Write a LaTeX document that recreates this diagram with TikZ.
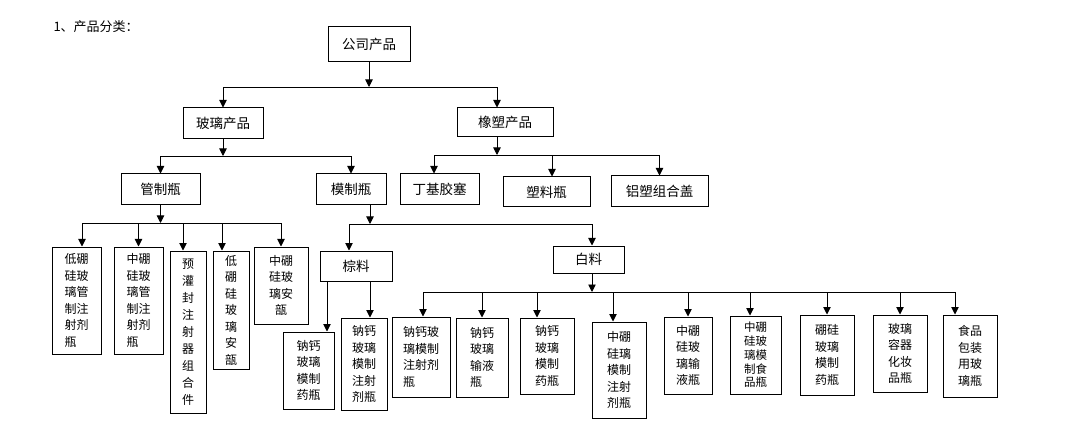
\documentclass[tikz,border=0pt]{standalone}
\usepackage{fontspec}
\setmainfont{Noto Sans CJK SC}
\usetikzlibrary{arrows.meta,positioning,calc}

\begin{document}
\begin{tikzpicture}[x=1pt, y=-1pt,
    box/.style={draw, line width=1pt, inner sep=0pt, font=\fontsize{13.5}{16}\selectfont},
    leaf/.style={draw, line width=1pt, inner sep=0pt, align=center, font=\fontsize{12}{16.5}\selectfont},
    wh/.style 2 args={minimum width=#1pt, minimum height=#2pt},
    link/.style={->, line width=0.9pt},
    >={Triangle[width=7.5pt,length=7.5pt]}]

  \useasboundingbox (0,0) rectangle (1080,433);

  \node[anchor=west, font=\fontsize{13}{15}\selectfont] (title) at (50,27) {1、产品分类：};

  \node[box, wh={82}{35}] (gs) at (369,44.5) {公司产品};
  \node[box, wh={80}{31}] (bl) at (223,123.5) {玻璃产品};
  \node[box, wh={96}{29}] (xs) at (505,122.5) {橡塑产品};
  \node[box, wh={79}{31}] (gz) at (160.5,189.5) {管制瓶};
  \node[box, wh={70}{31}] (mz) at (351,189.5) {模制瓶};
  \node[box, wh={79}{31}] (dj) at (439.5,189.5) {丁基胶塞};
  \node[box, wh={87}{30}] (sl) at (546.5,192) {塑料瓶};
  \node[box, wh={97}{31}] (lz) at (659.5,191.5) {铝塑组合盖};
  \node[box, wh={72}{30}] (zl) at (356,266) {棕料};
  \node[box, wh={71}{27}] (bai) at (588.5,259.5) {白料};

  % tube bottles
  \node[leaf, wh={49}{107}, align=left] (g1) at (76.5,300.5) {低硼\\硅玻\\璃管\\制注\\射剂\\瓶};
  \node[leaf, wh={49}{107}, align=left] (g2) at (138.5,300.5) {中硼\\硅玻\\璃管\\制注\\射剂\\瓶};
  \node[leaf, wh={36}{162}, font=\fontsize{12}{17}\selectfont] (g3) at (188,332) {预\\灌\\封\\注\\射\\器\\组\\合\\件};
  \node[leaf, wh={36}{118}] (g4) at (231,310) {低\\硼\\硅\\玻\\璃\\安\\瓿};
  \node[leaf, wh={54}{77}] (g5) at (281,285.5) {中硼\\硅玻\\璃安\\瓿};

  % brown glass
  \node[leaf, wh={51}{77}] (z1) at (308.5,370.5) {钠钙\\玻璃\\模制\\药瓶};
  \node[leaf, wh={46}{92}] (z2) at (364,364) {钠钙\\玻璃\\模制\\注射\\剂瓶};

  % flint glass
  \node[leaf, wh={58}{80}, align=left] (w1) at (421,357) {钠钙玻\\璃模制\\注射剂\\瓶};
  \node[leaf, wh={52}{79}, align=left] (w2) at (482,357.5) {钠钙\\玻璃\\输液\\瓶};
  \node[leaf, wh={54}{76}] (w3) at (547,356) {钠钙\\玻璃\\模制\\药瓶};
  \node[leaf, wh={54}{96}] (w4) at (619,370) {中硼\\硅璃\\模制\\注射\\剂瓶};
  \node[leaf, wh={48}{77}] (w5) at (688,355.5) {中硼\\硅玻\\璃输\\液瓶};
  \node[leaf, wh={51}{78}, font=\fontsize{11.5}{13.7}\selectfont] (w6) at (755.5,355) {中硼\\硅玻\\璃模\\制食\\品瓶};
  \node[leaf, wh={54}{80}] (w7) at (827,355) {硼硅\\玻璃\\模制\\药瓶};
  \node[leaf, wh={54}{77}] (w8) at (900,353.5) {玻璃\\容器\\化妆\\品瓶};
  \node[leaf, wh={54}{82}] (w9) at (970,356) {食品\\包装\\用玻\\璃瓶};

  % buses
  \coordinate (b1) at (369,87);
  \coordinate (b2) at (223,156);
  \coordinate (b3) at (497,155);
  \coordinate (b4) at (160.5,223);
  \coordinate (b5) at (370,224);
  \coordinate (b6) at (592,292);
  \coordinate (z1in) at ([xshift=18.5pt]z1.north);
  \coordinate (z2in) at ([xshift=6pt]z2.north);

  \draw[link] (gs) -- (b1);
  \draw[link] (b1) -| (bl.north);
  \draw[link] (b1) -| ([xshift=-8pt]xs.north);

  \draw[link] (bl) -- (b2);
  \draw[link] (b2) -| (gz.north);
  \draw[link] (b2) -| (mz.north);

  \draw[link] ([xshift=-8pt]xs.south) -- (b3);
  \draw[link] (b3) -| ([xshift=-5.5pt]dj.north);
  \draw[link] (b3) -| ([xshift=5.5pt]sl.north);
  \draw[link] (b3) -| (lz.north);

  \draw[link] (gz) -- (b4);
  \draw[link] (b4) -| ([xshift=5.5pt]g1.north);
  \draw[link] (b4) -| (g2.north);
  \draw[link] (b4) -| ([xshift=-5pt]g3.north);
  \draw[link] (b4) -| ([xshift=-9pt]g4.north);
  \draw[link] (b4) -| (g5.north);

  \draw[link] (mz.south -| b5) -- (b5);
  \draw[link] (b5) -| ([xshift=-7pt]zl.north);
  \draw[link] (b5) -| ([xshift=3.5pt]bai.north);

  \draw[link] (zl.south -| z1in) -- (z1in);
  \draw[link] (zl.south -| z2in) -- (z2in);

  \draw[link] (bai.south -| b6) -- (b6);
  \draw[link] (b6) -| ([xshift=2pt]w1.north);
  \draw[link] (b6) -| (w2.north);
  \draw[link] (b6) -| ([xshift=-10pt]w3.north);
  \draw[link] (b6) -| ([xshift=-6pt]w4.north);
  \draw[link] (b6) -| (w5.north);
  \draw[link] (b6) -| ([xshift=-5.5pt]w6.north);
  \draw[link] (b6) -| (w7.north);
  \draw[link] (b6) -| (w8.north);
  \draw[link] (b6) -| ([xshift=-15pt]w9.north);
\end{tikzpicture}
\end{document}
